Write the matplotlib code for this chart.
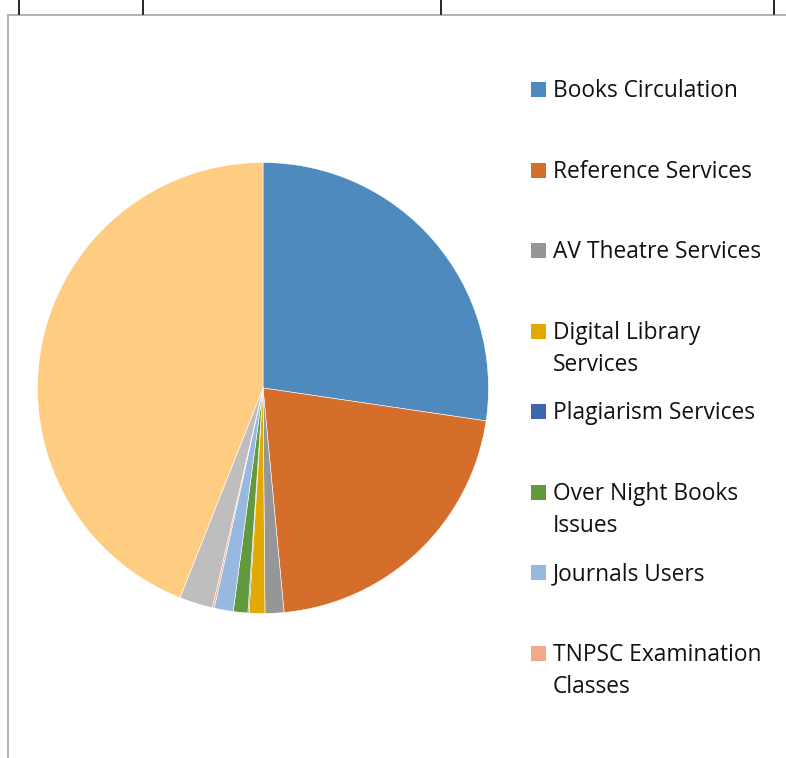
import matplotlib
matplotlib.use("Agg")
import matplotlib.pyplot as plt
from matplotlib.patches import Rectangle
from matplotlib.lines import Line2D

categories = ["Books Circulation", "Reference Services", "AV Theatre Services",
              "Digital Library\nServices", "Plagiarism Services",
              "Over Night Books\nIssues", "Journals Users",
              "TNPSC Examination\nClasses", "Other 1", "Other 2"]
values = [27.33, 21.18, 1.35, 1.13, 0.08, 1.04, 1.36, 0.14, 2.39, 44.0]
colors = ["#4F8ABE", "#D46E2A", "#969696", "#E3A900", "#3E66AE",
          "#62993D", "#97B9E0", "#F2A88B", "#BEBEBE", "#FFCD82"]
legend_count = 8

W, H = 786, 758
fig = plt.figure(figsize=(W / 100, H / 100), dpi=100)

# pie axes
cx, cy, R = 263, 388, 225.5
ax = fig.add_axes([(cx - R) / W, (H - cy - R) / H, 2 * R / W, 2 * R / H])
ax.pie(values, colors=colors, startangle=90, counterclock=False, radius=1,
       wedgeprops=dict(edgecolor="white", linewidth=0.4))
ax.set_xlim(-1, 1)
ax.set_ylim(-1, 1)
ax.set_aspect("auto")
ax.axis("off")


def fx(x):
    return x / W


def fy(y):
    return 1 - y / H


# frame lines (chart area border and table above)
fig.add_artist(Line2D([fx(8), fx(786)], [fy(15), fy(15)], color="#A6A6A6", lw=1.2))
fig.add_artist(Line2D([fx(8), fx(8)], [fy(15), fy(758)], color="#A6A6A6", lw=1.2))
for x in [19, 143, 441, 774]:
    fig.add_artist(Line2D([fx(x), fx(x)], [fy(0), fy(14)], color="black", lw=1.2))

# legend
legend_base = [97, 178, 258, 339, 419, 500, 580, 661]
line_gap = 32
for i in range(legend_count):
    b = legend_base[i]
    fig.add_artist(Rectangle((fx(531), fy(b)), 15 / W, 15 / H,
                             facecolor=colors[i], edgecolor="none",
                             transform=fig.transFigure))
    for j, line in enumerate(categories[i].split("\n")):
        fig.text(fx(553), fy(b + j * line_gap), line, ha="left", va="baseline",
                 fontsize=16.4, family="Open Sans", color="#111111")

fig.savefig("out.png", dpi=100)
